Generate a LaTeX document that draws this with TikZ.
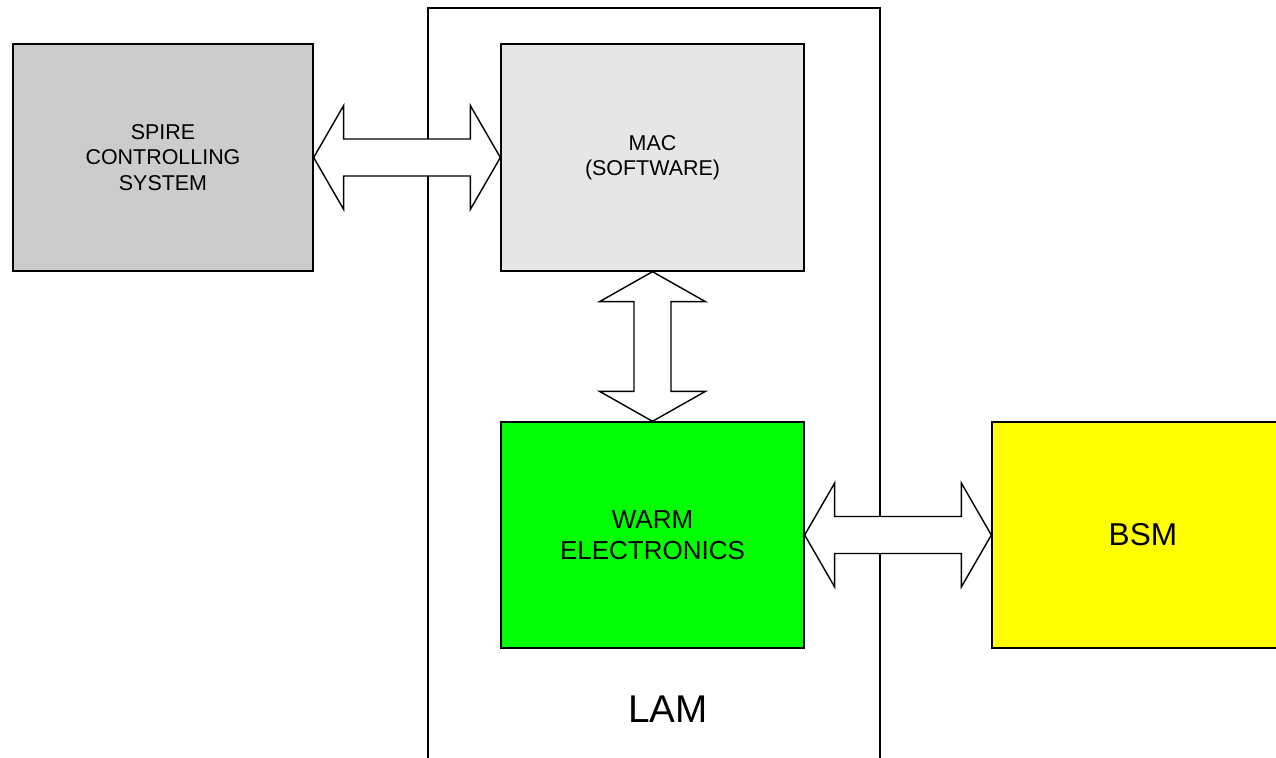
\documentclass[tikz,border=0pt]{standalone}
\usepackage{fontspec}
\setmainfont{Liberation Sans}
\usepackage{tikz}
\usetikzlibrary{calc, positioning}
\usepackage{xcolor}
\definecolor{spireGray}{RGB}{204, 204, 204}
\definecolor{macGray}{RGB}{230, 230, 230}
\definecolor{warmGreen}{RGB}{0, 255, 0}
\definecolor{bsmYellow}{RGB}{255, 255, 0}

\begin{document}
\begin{tikzpicture}[
  x=0.02cm, y=-0.02cm,
  block/.style={rectangle, draw, line width=0.8pt, align=center, inner sep=0pt},
  fatarrow/.style={draw, fill=white, line width=0.8pt, line join=miter},
  small/.style={font=\fontsize{12.2}{14.5}\selectfont},
  large/.style={font=\fontsize{14.8}{18}\selectfont}
]
  \useasboundingbox (0,0) rectangle (1276,758);
  \clip (0,0) rectangle (1276,758);

  % LAM frame (open at the bottom)
  \draw[line width=0.8pt] (428,770) -- (428,8) -- (880,8) -- (880,770);
  \node[font=\fontsize{22}{26}\selectfont] (lam) at (668,709) {LAM};

  % Blocks
  \node[block, small, fill=spireGray, minimum width=6cm, minimum height=4.54cm]
    (spire) at (163,157.5) {SPIRE\\CONTROLLING\\SYSTEM};
  \node[block, small, fill=macGray, minimum width=6.06cm, minimum height=4.54cm]
    (mac) at (652.5,157.5) {MAC\\(SOFTWARE)};
  \node[block, large, fill=warmGreen, minimum width=6.06cm, minimum height=4.52cm]
    (warm) at (652.5,535) {WARM\\ELECTRONICS};
  \node[block, fill=bsmYellow, font=\fontsize{18}{22}\selectfont,
    minimum width=6.04cm, minimum height=4.52cm]
    (bsm) at (1143,535) {BSM};

  % Double block arrows
  \draw[fatarrow] (spire.east) -- ++(30,-52) -- ++(0,33.5)
    -- ($(mac.west)+(-30,-18.5)$) -- ++(0,-33.5) -- (mac.west)
    -- ++(-30,52) -- ++(0,-33.5)
    -- ($(spire.east)+(30,18.5)$) -- ++(0,33.5) -- cycle;
  \draw[fatarrow] (mac.south) -- ++(53,30) -- ++(-34.5,0)
    -- ($(warm.north)+(18.5,-30)$) -- ++(34.5,0) -- (warm.north)
    -- ++(-53,-30) -- ++(34.5,0)
    -- ($(mac.south)+(-18.5,30)$) -- ++(-34.5,0) -- cycle;
  \draw[fatarrow] (warm.east) -- ++(30,-52) -- ++(0,33.5)
    -- ($(bsm.west)+(-30,-18.5)$) -- ++(0,-33.5) -- (bsm.west)
    -- ++(-30,52) -- ++(0,-33.5)
    -- ($(warm.east)+(30,18.5)$) -- ++(0,33.5) -- cycle;
\end{tikzpicture}
\end{document}
